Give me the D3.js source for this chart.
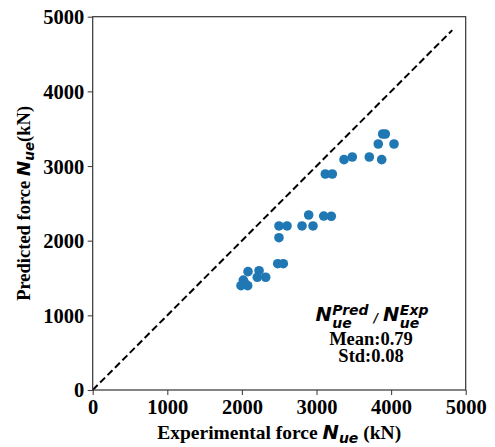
<!DOCTYPE html>
<html>
<head>
<meta charset="utf-8">
<script src="https://cdn.jsdelivr.net/npm/d3@7"></script>
<style>
  body { margin: 0; background: #fff; }
  .tick text { font-family: 'Liberation Serif', 'Times New Roman', serif; font-weight: bold; font-size: 20.5px; fill: #000; }
  .lbl { font-family: 'Liberation Serif', 'Times New Roman', serif; font-weight: bold; fill: #000; }
  .sym { font-family: 'DejaVu Sans', sans-serif; font-weight: bold; font-style: italic; fill: #000; }
</style>
</head>
<body>
<div class="container"></div>
<script>
// experimental vs predicted forces (kN)
const expForce = [3887, 3922, 3828, 4039, 3369, 3480, 3708, 3874, 3118, 3212,
  2895, 3097, 3198, 2497, 2605, 2806, 2953, 2497, 2480, 2555,
  2082, 2230, 2206, 2319, 2019, 1988, 2078, 2040];
const predForce = [3429, 3429, 3295, 3295, 3085, 3121, 3121, 3085, 2893, 2893,
  2344, 2330, 2327, 2197, 2197, 2197, 2197, 2040, 1692, 1692,
  1585, 1598, 1510, 1510, 1473, 1397, 1397, 1430];
const tickValues = [0, 1000, 2000, 3000, 4000, 5000];
const refLine = [0, 4820];
const statLines = ['Mean:0.79', 'Std:0.08'];

const width = 495;
const height = 447;
const margin = { top: 16.7, right: 29.3, bottom: 57, left: 92.7 };
const chartWidth = width - margin.left - margin.right;
const chartHeight = height - margin.top - margin.bottom;

const svg = d3.select('.container').append('svg').attr('width', width).attr('height', height);
const chart = svg.append('g').attr('transform', `translate(${margin.left},${margin.top})`);

const xScale = d3.scaleLinear().domain([0, 5000]).range([0, chartWidth]);
const yScale = d3.scaleLinear().domain([0, 5000]).range([chartHeight, 0]);

const fmt = d3.format('d');
const bottomAxis = d3.axisBottom(xScale).tickValues(tickValues).tickFormat(fmt).tickSize(5).tickPadding(5.5);
const leftAxis = d3.axisLeft(yScale).tickValues(tickValues).tickFormat(fmt).tickSize(5).tickPadding(3.5);

const gx = chart.append('g').attr('transform', `translate(0,${chartHeight})`).call(bottomAxis);
const gy = chart.append('g').call(leftAxis);
[gx, gy].forEach(g => {
  g.select('.domain').remove();
  g.selectAll('.tick line').attr('stroke', '#444').attr('stroke-width', 1.1);
});
gx.selectAll('.tick text').attr('dy', '0.68em');
gy.selectAll('.tick text').attr('dy', '0.34em');

// dashed 1:1 line
chart
  .append('path')
  .attr('d', d3.line().x(d => xScale(d)).y(d => yScale(d))(refLine))
  .attr('stroke', '#000')
  .attr('stroke-width', 2)
  .attr('stroke-dasharray', '7,3.5')
  .attr('fill', 'none');

chart
  .append('g')
  .selectAll('circle')
  .data(expForce)
  .enter()
  .append('circle')
  .attr('cx', d => xScale(d))
  .attr('cy', (d, i) => yScale(predForce[i]))
  .attr('r', 4.8)
  .attr('fill', '#1f77b4');

// frame
chart
  .append('rect')
  .attr('width', chartWidth)
  .attr('height', chartHeight)
  .attr('fill', 'none')
  .attr('stroke', '#333')
  .attr('stroke-width', 1.2);

// N with super/subscript, returns the x where it ends
const symbol = (g, x, sup, sub) => {
  const n = g.append('text').attr('class', 'sym').attr('x', x).style('font-size', '19.5px').text('N');
  const w = n.node().getComputedTextLength();
  const a = g.append('text').attr('class', 'sym').attr('x', x + w + 0.5).attr('y', -6).style('font-size', '14px').text(sup);
  const b = g.append('text').attr('class', 'sym').attr('x', x + w + 0.5).attr('y', 7).style('font-size', '14px').text(sub);
  return x + w + 0.5 + Math.max(a.node().getComputedTextLength(), b.node().getComputedTextLength());
};

const ratio = svg.append('g');
let end = symbol(ratio, 0, 'Pred', 'ue');
const slash = ratio.append('text').attr('class', 'sym').attr('x', end + 5).attr('y', 1).style('font-size', '12px').text('/');
end = symbol(ratio, end + 5 + slash.node().getComputedTextLength() + 5, 'Exp', 'ue');
ratio.attr('transform', `translate(${372 - end / 2},321)`);

svg
  .append('g')
  .selectAll('text')
  .data(statLines)
  .enter()
  .append('text')
  .attr('class', 'lbl')
  .style('font-size', '18.5px')
  .attr('text-anchor', 'middle')
  .attr('x', 371)
  .attr('y', (d, i) => 345 + i * 17)
  .text(d => d);

// axis labels
const xl = svg.append('text').attr('class', 'lbl').style('font-size', '19.5px').attr('text-anchor', 'middle')
  .attr('x', margin.left + chartWidth / 2).attr('y', 439);
xl.append('tspan').text('Experimental force ');
xl.append('tspan').attr('class', 'sym').text('N');
xl.append('tspan').attr('class', 'sym').style('font-size', '14px').attr('dy', 4).text('ue');
xl.append('tspan').attr('dy', -4).text(' (kN)');

const yl = svg.append('text').attr('class', 'lbl').style('font-size', '18.5px').attr('text-anchor', 'middle')
  .attr('transform', `translate(30,${margin.top + chartHeight / 2}) rotate(-90)`);
yl.append('tspan').text('Predicted force ');
yl.append('tspan').attr('class', 'sym').text('N');
yl.append('tspan').attr('class', 'sym').style('font-size', '13.5px').attr('dy', 4).text('ue');
yl.append('tspan').attr('dy', -4).text('(kN)');
</script>
</body>
</html>
